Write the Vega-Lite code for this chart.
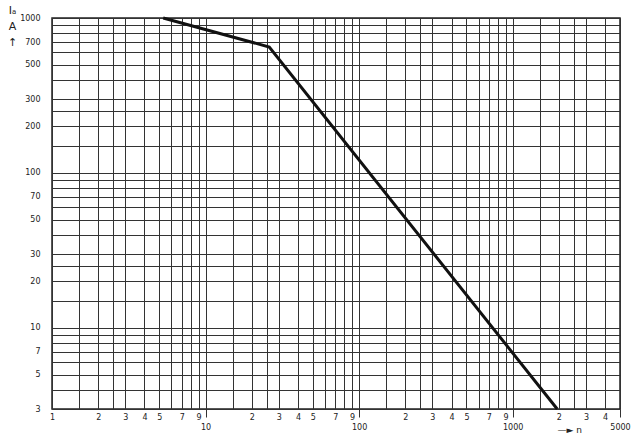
{
  "$schema": "https://vega.github.io/schema/vega-lite/v6.json",
  "autosize": {"type": "none"},
  "width": 568,
  "height": 391,
  "padding": {"left": 52, "top": 18, "right": 18, "bottom": 39},
  "background": "white",
  "config": {
    "view": {"stroke": "#222", "strokeWidth": 1.5},
    "axis": {"labelFont": "DejaVu Sans", "labelFontSize": 8, "labelColor": "#222", "titleFont": "DejaVu Sans", "titleColor": "#222", "titleFontWeight": "normal"}
  },
  "data": {"values": [
    {"n": 5.3, "Ia": 1000},
    {"n": 26, "Ia": 650},
    {"n": 1950, "Ia": 3}
  ]},
  "resolve": {"axis": {"x": "independent", "y": "independent"}},
  "layer": [
    {
      "mark": {"type": "line", "color": "#111", "strokeWidth": 3},
      "encoding": {
        "x": {"field": "n", "type": "quantitative",
          "scale": {"type": "log", "domain": [1, 5000], "nice": false},
          "axis": {"orient": "bottom", "title": null, "domain": false, "ticks": false,
            "grid": true, "gridColor": "#333", "gridWidth": 1,
            "values": [1,1.5,2,2.5,3,4,5,6,7,8,9,10,15,20,25,30,40,50,60,70,80,90,100,150,200,250,300,400,500,600,700,800,900,1000,1500,2000,2500,3000,4000,5000],
            "labelExpr": "indexof([1,2,3,4,5,7,9,20,30,40,50,70,90,200,300,400,500,700,900,2000,3000,4000], datum.value) >= 0 ? substring(toString(datum.value), 0, 1) : ''",
            "labelPadding": 4, "labelOverlap": false, "labelFlush": false}
        },
        "y": {"field": "Ia", "type": "quantitative",
          "scale": {"type": "log", "domain": [3, 1000], "nice": false},
          "axis": {"orient": "left", "domain": false, "ticks": false,
            "grid": true, "gridColor": "#333", "gridWidth": 1,
            "values": [3,4,5,6,7,8,9,10,15,20,25,30,40,50,60,70,80,90,100,150,200,250,300,400,500,600,700,800,900,1000],
            "labelExpr": "indexof([3,5,7,10,20,30,50,70,100,200,300,500,700,1000], datum.value) >= 0 ? toString(datum.value) : ''",
            "labelPadding": 12, "labelOverlap": false, "labelFlush": false,
            "title": ["Iₐ", "A", "↑"], "titleAngle": 0, "titleX": -40, "titleY": -14,
            "titleAlign": "center", "titleBaseline": "top", "titleFontSize": 11, "titleLineHeight": 16}
        }
      }
    },
    {
      "mark": {"type": "line", "strokeOpacity": 0},
      "encoding": {
        "x": {"field": "n", "type": "quantitative",
          "scale": {"type": "log", "domain": [1, 5000], "nice": false},
          "axis": {"orient": "bottom", "domain": false, "grid": false,
            "ticks": true, "tickSize": 8, "tickColor": "#333", "tickWidth": 1,
            "values": [10, 100, 1000, 5000], "format": "d",
            "labelPadding": 6, "labelOverlap": false, "labelFlush": false,
            "title": "—► n", "titleX": 505, "titleY": 20, "titleAlign": "left",
            "titleBaseline": "middle", "titleFontSize": 9}
        },
        "y": {"field": "Ia", "type": "quantitative",
          "scale": {"type": "log", "domain": [3, 1000], "nice": false},
          "axis": null}
      }
    }
  ]
}
